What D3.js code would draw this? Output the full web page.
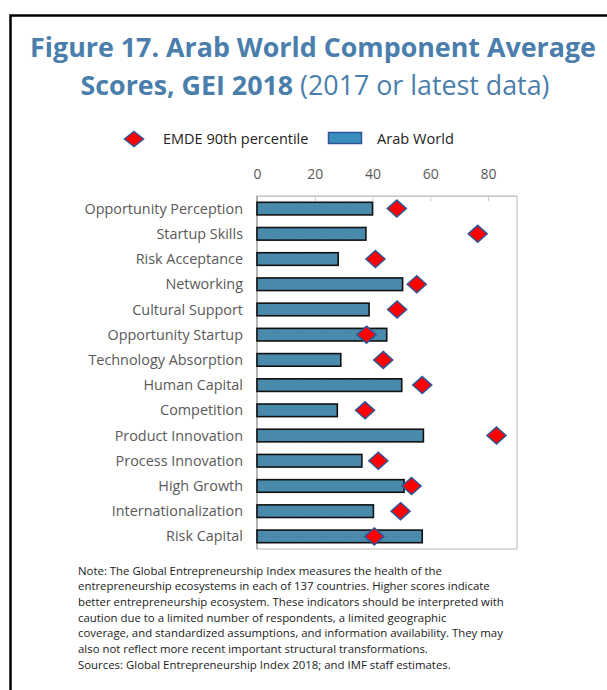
<!DOCTYPE html>
<html>
<head>
<meta charset="utf-8">
<script src="https://cdn.jsdelivr.net/npm/d3@7"></script>
<style>
  body { margin: 0; background: #fff; }
  svg { display: block; font-family: "Open Sans", "Noto Sans", sans-serif; }
</style>
</head>
<body>
<svg id="chart" width="607" height="690"></svg>
<script>
const CATEGORIES = ['Opportunity Perception', 'Startup Skills', 'Risk Acceptance', 'Networking',
  'Cultural Support', 'Opportunity Startup', 'Technology Absorption', 'Human Capital',
  'Competition', 'Product Innovation', 'Process Innovation', 'High Growth',
  'Internationalization', 'Risk Capital'];
const ARAB_WORLD = [40, 37.7, 28.1, 50.4, 38.8, 44.9, 29, 50.1, 27.8, 57.6, 36.3, 50.9, 40.3, 57.2];
const EMDE_P90 = [48.4, 76.4, 41, 55.3, 48.5, 37.9, 43.7, 57.2, 37.4, 82.9, 42, 53.5, 49.7, 40.6];
const X_TICKS = [0, 20, 40, 60, 80];
const NOTE_LINES = [
  'Note: The Global Entrepreneurship Index measures the health of the',
  'entrepreneurship ecosystems in each of 137 countries. Higher scores indicate',
  'better entrepreneurship ecosystem. These indicators should be interpreted with',
  'caution due to a limited number of respondents, a limited geographic',
  'coverage, and standardized assumptions, and information availability. They may',
  'also not reflect more recent important structural transformations.',
  'Sources: Global Entrepreneurship Index 2018; and IMF staff estimates.'
];

const svg = d3.select('#chart');

// squeeze a text element to a given width (the original uses a narrower font)
function fitWidth(sel, w) {
  const n = sel.node();
  const len = n.getComputedTextLength();
  const fs = parseFloat(sel.attr('font-size'));
  sel.attr('font-size', (fs * w / len).toFixed(2));
}

// frame, only top and left edges are in view
svg.append('path')
  .attr('d', 'M10.5,690 V15.5 H607')
  .attr('fill', 'none')
  .attr('stroke', '#000')
  .attr('stroke-width', 2.5);

// title
const TITLE_COLOR = '#4a7eac';
const t1 = svg.append('text')
  .attr('x', 313).attr('y', 57)
  .attr('text-anchor', 'middle')
  .attr('font-size', 26).attr('font-weight', 'bold')
  .attr('fill', TITLE_COLOR)
  .text('Figure 17. Arab World Component Average');
fitWidth(t1, 566);
const t2 = svg.append('text')
  .attr('x', 315).attr('y', 95)
  .attr('text-anchor', 'middle')
  .attr('font-size', 26)
  .attr('fill', TITLE_COLOR);
t2.append('tspan').attr('font-weight', 'bold').text('Scores, GEI 2018');
t2.append('tspan').text(' (2017 or latest data)');
fitWidth(t2, 469);

// scales
const x = d3.scaleLinear().domain([0, 90]).range([257, 517]);
const y = d3.scaleBand().domain(CATEGORIES).range([196, 549]).paddingInner(0.5).paddingOuter(0.25);

// dotted texture for bars
const defs = svg.append('defs');
const pat = defs.append('pattern')
  .attr('id', 'dots').attr('width', 6).attr('height', 6)
  .attr('patternUnits', 'userSpaceOnUse');
pat.append('rect').attr('width', 6).attr('height', 6).attr('fill', '#4a8aac');
pat.append('rect').attr('x', 2).attr('y', 2).attr('width', 1).attr('height', 1).attr('fill', '#3f7c9d');

// plot border
svg.append('rect')
  .attr('x', x(0)).attr('y', 196)
  .attr('width', x(90) - x(0)).attr('height', 549 - 196)
  .attr('fill', 'none')
  .attr('stroke', '#d0d0d0').attr('stroke-width', 1.5);

// top axis, ticks pointing into plot
const xAxis = svg.append('g')
  .attr('transform', 'translate(0,196)')
  .call(d3.axisTop(x).tickValues(X_TICKS).tickSizeInner(-5).tickSizeOuter(0).tickPadding(17));
xAxis.select('.domain').attr('stroke', '#c8c8c8');
xAxis.selectAll('.tick line').attr('stroke', '#c8c8c8');
xAxis.selectAll('.tick text')
  .attr('font-family', '"Open Sans", sans-serif')
  .attr('font-size', 14).attr('fill', '#595959');

// left axis line
svg.append('line')
  .attr('x1', x(0)).attr('x2', x(0)).attr('y1', 196).attr('y2', 549)
  .attr('stroke', '#8c8c8c').attr('stroke-width', 1);

// category labels
svg.append('g')
  .selectAll('text')
  .data(CATEGORIES)
  .enter().append('text')
    .attr('x', 243)
    .attr('y', d => y(d) + y.bandwidth() / 2)
    .attr('dy', '0.35em')
    .attr('text-anchor', 'end')
    .attr('font-size', 14.4)
    .attr('fill', '#595959')
    .text(d => d);

// bars
svg.append('g')
  .selectAll('rect')
  .data(ARAB_WORLD)
  .enter().append('rect')
    .attr('x', x(0))
    .attr('y', (d, i) => y(CATEGORIES[i]))
    .attr('width', d => x(d) - x(0))
    .attr('height', y.bandwidth())
    .attr('fill', 'url(#dots)')
    .attr('stroke', '#111')
    .attr('stroke-width', 1.6);

// diamonds
const diamond = (cx, cy, w, h) =>
  `M${cx},${cy - h / 2} L${cx + w / 2},${cy} L${cx},${cy + h / 2} L${cx - w / 2},${cy} Z`;
svg.append('g')
  .selectAll('path')
  .data(EMDE_P90)
  .enter().append('path')
    .attr('d', (d, i) => diamond(x(d), y(CATEGORIES[i]) + y.bandwidth() / 2, 19, 17))
    .attr('fill', '#ff0000')
    .attr('stroke', '#2f5597')
    .attr('stroke-width', 1.5);

// legend
const lg = svg.append('g');
lg.append('path')
  .attr('d', diamond(134, 139, 19, 15))
  .attr('fill', '#ff0000').attr('stroke', '#2f5597').attr('stroke-width', 1.5);
lg.append('text')
  .attr('x', 163).attr('y', 139).attr('dy', '0.35em')
  .attr('font-size', 14.5).attr('fill', '#222')
  .text('EMDE 90th percentile');
lg.append('rect')
  .attr('x', 328.5).attr('y', 132.5).attr('width', 33).attr('height', 11)
  .attr('fill', '#3a8dbf').attr('stroke', '#2f5597').attr('stroke-width', 1.5);
lg.append('text')
  .attr('x', 377).attr('y', 139).attr('dy', '0.35em')
  .attr('font-size', 14.6).attr('fill', '#222')
  .text('Arab World');

// note
const note = svg.append('g');
NOTE_LINES.forEach((line, i) => {
  note.append('text')
    .attr('x', 78).attr('y', 574.5 + i * 15.7)
    .attr('font-size', 11.4).attr('fill', '#1a1a1a')
    .text(line);
});
</script>
</body>
</html>
